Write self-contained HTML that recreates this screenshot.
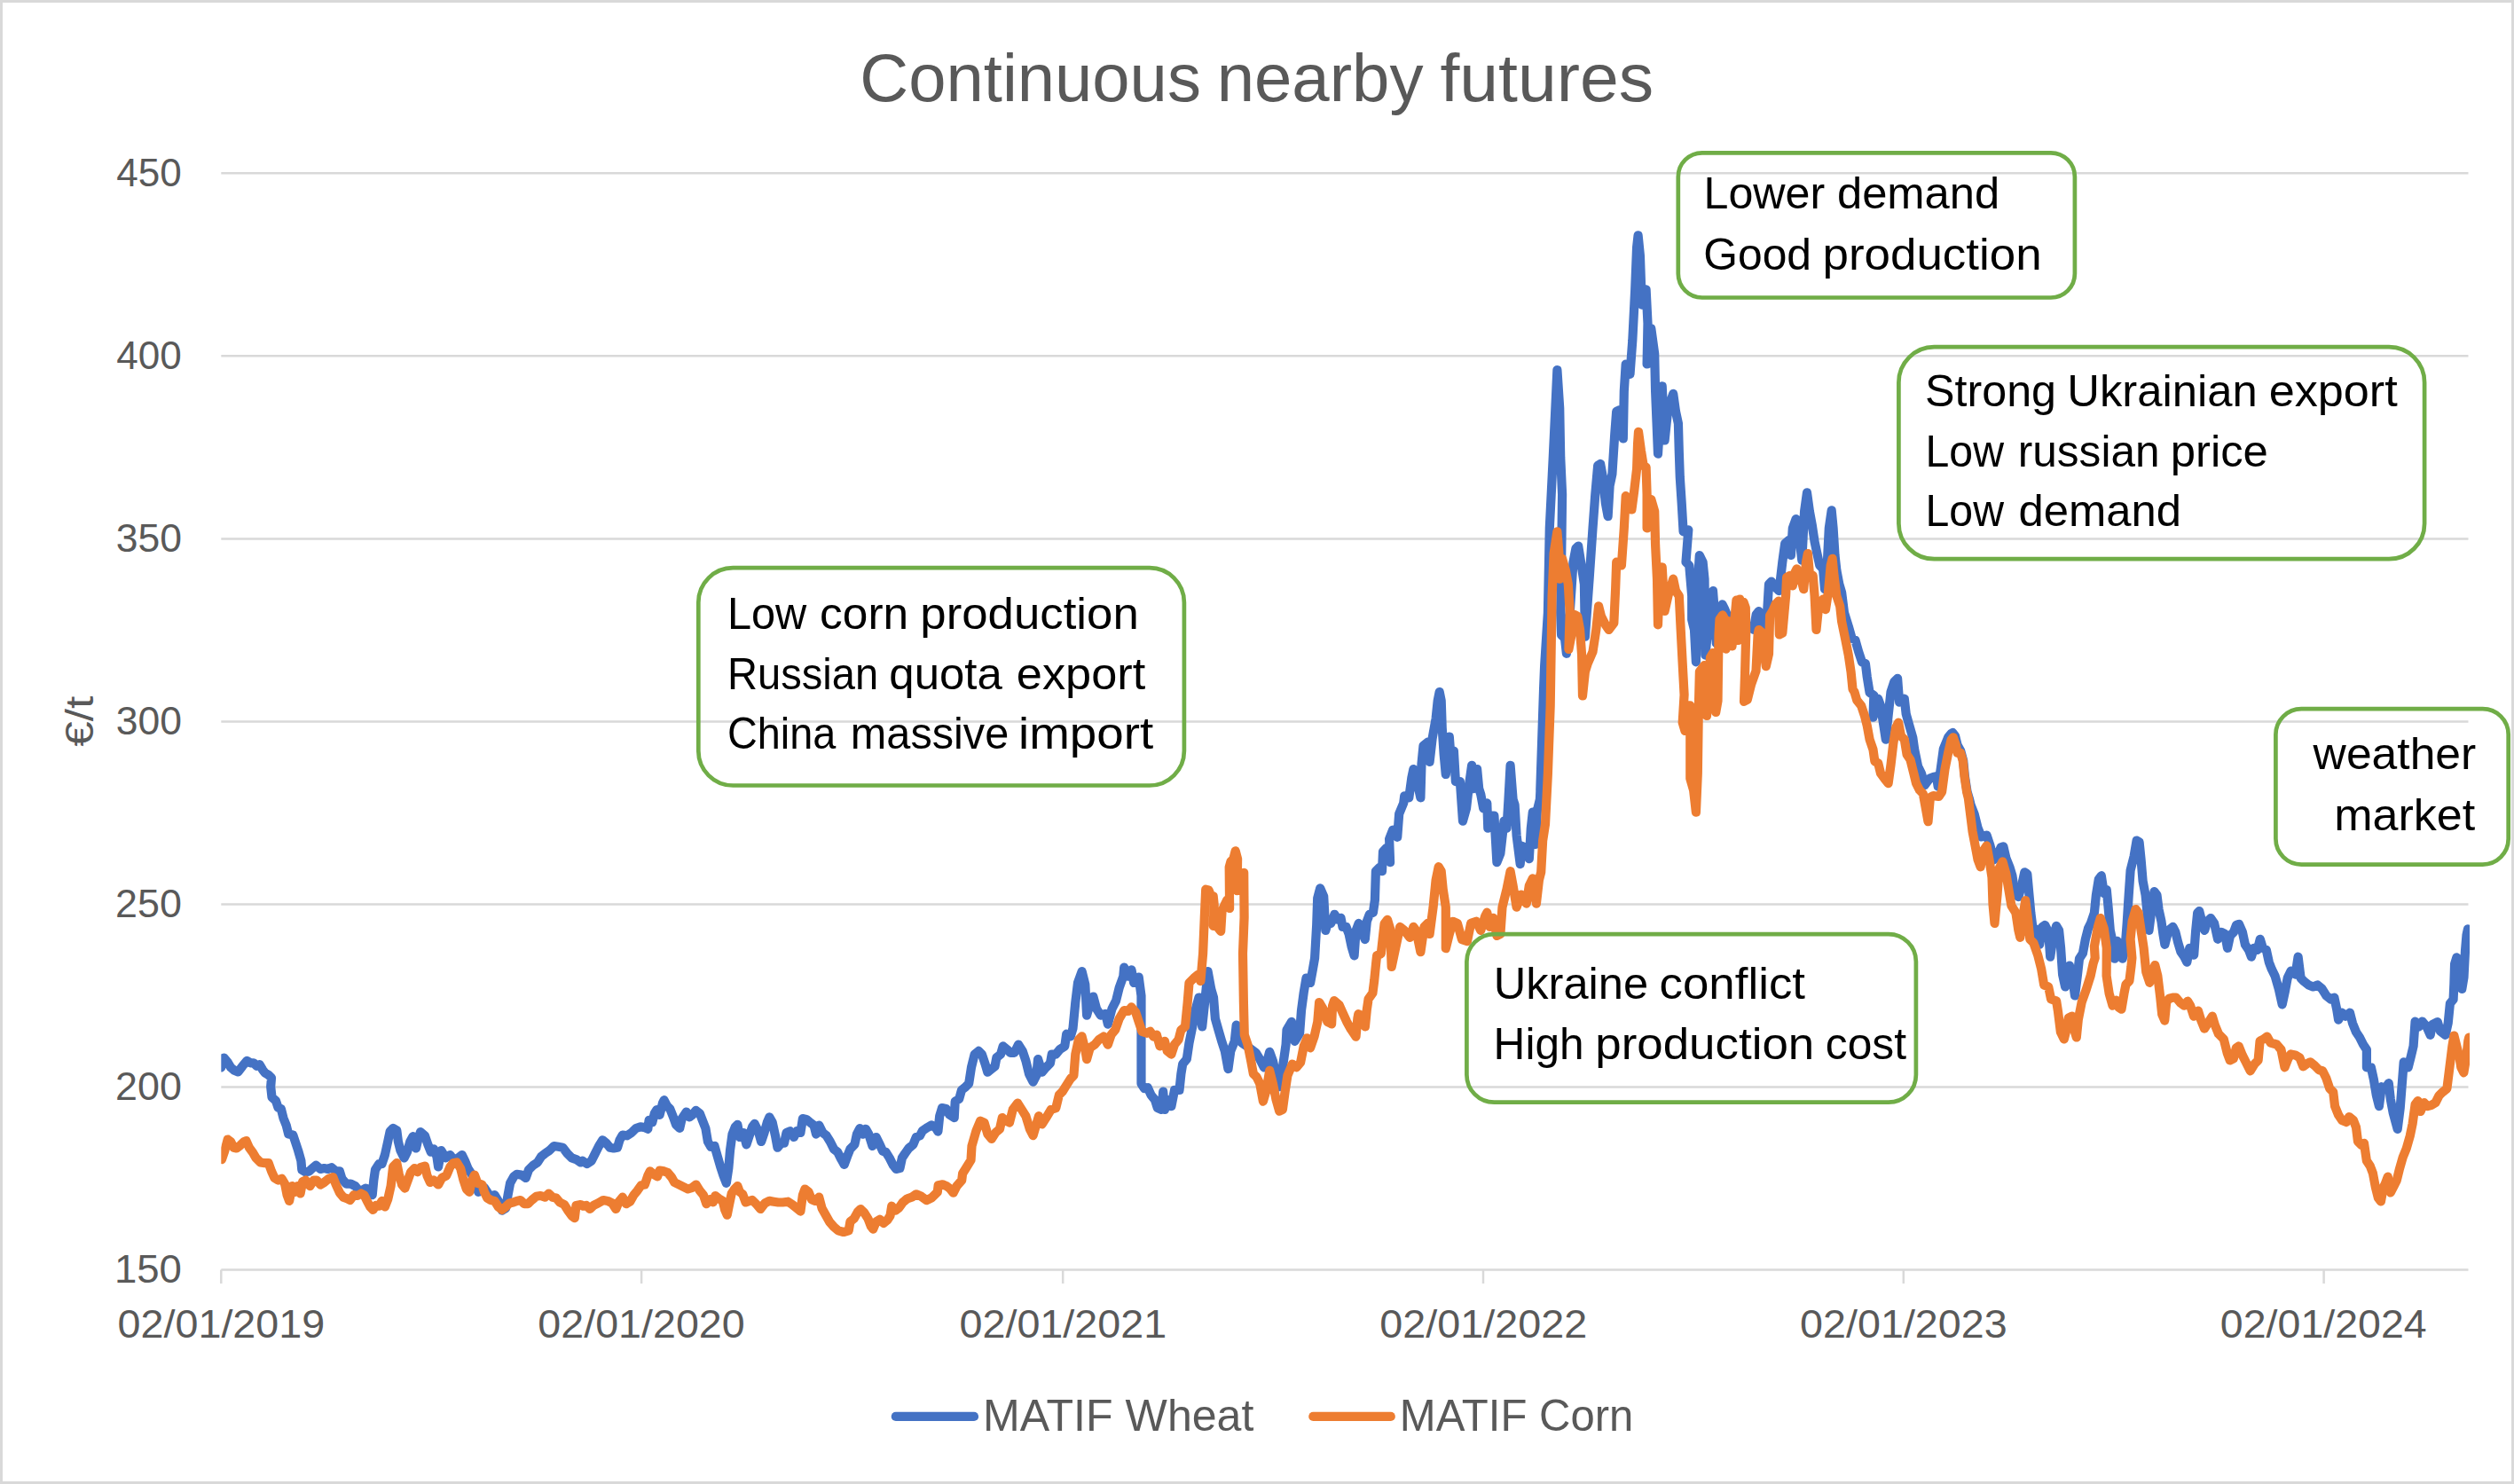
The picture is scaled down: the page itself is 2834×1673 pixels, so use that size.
<!DOCTYPE html>
<html lang="en"><head><meta charset="utf-8"><title>Continuous nearby futures</title>
<style>html,body{margin:0;padding:0;background:#fff}svg{display:block}text{font-family:"Liberation Sans",sans-serif}</style></head><body>
<svg width="2834" height="1673" viewBox="0 0 2834 1673">
<rect x="0" y="0" width="2834" height="1673" fill="#fff"/>
<rect x="1.5" y="1.5" width="2831" height="1670" fill="none" stroke="#d9d9d9" stroke-width="3"/>
<path d="M249.3 195.3H2782.5 M249.3 401.3H2782.5 M249.3 607.4H2782.5 M249.3 813.4H2782.5 M249.3 1019.4H2782.5 M249.3 1225.5H2782.5 M249.3 1431.5H2782.5 M249.3 1431.5V1447 M723.1 1431.5V1447 M1198.2 1431.5V1447 M1672.0 1431.5V1447 M2145.8 1431.5V1447 M2619.6 1431.5V1447" fill="none" stroke="#d9d9d9" stroke-width="2.5"/>
<text y="113.70" font-size="76.7" fill="#595959"><tspan x="969.30" textLength="384.61" lengthAdjust="spacingAndGlyphs">Continuous</tspan> <tspan x="1371.66" textLength="232.85" lengthAdjust="spacingAndGlyphs">nearby</tspan> <tspan x="1623.42" textLength="240.82" lengthAdjust="spacingAndGlyphs">futures</tspan></text>
<text transform="translate(131.31,209.70) scale(0.9845,1)" font-size="44.8" fill="#595959">450</text>
<text transform="translate(131.31,415.73) scale(0.9845,1)" font-size="44.8" fill="#595959">400</text>
<text transform="translate(130.63,621.76) scale(0.9938,1)" font-size="44.8" fill="#595959">350</text>
<text transform="translate(130.63,827.79) scale(0.9938,1)" font-size="44.8" fill="#595959">300</text>
<text transform="translate(130.06,1033.82) scale(1.0016,1)" font-size="44.8" fill="#595959">250</text>
<text transform="translate(130.06,1239.85) scale(1.0016,1)" font-size="44.8" fill="#595959">200</text>
<text transform="translate(128.88,1445.88) scale(1.0177,1)" font-size="44.8" fill="#595959">150</text>
<text transform="translate(132.53,1507.70) scale(1.0426,1)" font-size="44.8" fill="#595959">02/01/2019</text>
<text transform="translate(606.34,1507.70) scale(1.0410,1)" font-size="44.8" fill="#595959">02/01/2020</text>
<text transform="translate(1081.44,1507.70) scale(1.0431,1)" font-size="44.8" fill="#595959">02/01/2021</text>
<text transform="translate(1555.25,1507.70) scale(1.0436,1)" font-size="44.8" fill="#595959">02/01/2022</text>
<text transform="translate(2029.06,1507.70) scale(1.0420,1)" font-size="44.8" fill="#595959">02/01/2023</text>
<text transform="translate(2502.87,1507.70) scale(1.0389,1)" font-size="44.8" fill="#595959">02/01/2024</text>
<text transform="translate(105.2,841.78) rotate(-90) scale(1.1451,1)" font-size="44.8" fill="#595959">€/t</text>
<clipPath id="plot"><rect x="249.3" y="150" width="2534.7" height="1300"/></clipPath><g clip-path="url(#plot)">
<path d="M249.2 1203.4 L252.5 1192.6 L256.7 1197.6 L260.1 1203.4 L264.2 1206.8 L268.4 1208.4 L273.4 1201.8 L278.4 1195.9 L282.6 1198.4 L286.0 1198.4 L289.3 1201.8 L292.6 1200.1 L296.0 1205.9 L298.5 1209.3 L302.7 1211.8 L306.0 1215.1 L305.2 1225.2 L306.5 1236.9 L311.0 1241.0 L313.5 1248.6 L316.9 1250.2 L319.4 1260.3 L322.7 1268.6 L325.2 1278.6 L330.3 1279.5 L332.8 1287.0 L336.1 1297.0 L339.4 1308.7 L340.3 1318.8 L344.5 1321.3 L348.6 1320.4 L352.0 1317.1 L356.2 1313.7 L361.2 1317.9 L365.4 1317.1 L369.5 1317.9 L373.7 1316.2 L378.7 1320.4 L382.9 1320.4 L385.4 1328.8 L390.4 1334.6 L395.4 1334.6 L400.5 1337.1 L404.6 1342.2 L408.0 1342.2 L412.2 1339.6 L417.2 1342.2 L419.7 1347.2 L421.3 1330.5 L423.0 1318.8 L427.2 1312.1 L430.5 1312.1 L433.9 1302.0 L437.2 1287.0 L439.7 1275.3 L443.1 1272.0 L447.3 1274.5 L448.9 1287.0 L451.4 1297.0 L455.6 1305.4 L459.0 1298.7 L462.3 1287.0 L465.6 1281.1 L469.0 1294.5 L471.5 1283.7 L474.0 1276.1 L479.0 1280.3 L482.4 1290.3 L485.7 1298.7 L489.0 1295.4 L492.4 1303.7 L494.1 1315.4 L497.4 1297.0 L502.4 1305.4 L507.4 1302.0 L512.4 1308.7 L520.8 1302.0 L524.1 1308.7 L527.5 1317.1 L531.7 1323.8 L539.2 1343.8 L545.9 1338.8 L552.6 1348.8 L557.6 1347.2 L561.7 1353.9 L565.9 1364.7 L570.1 1362.2 L572.6 1347.2 L575.1 1333.8 L579.3 1326.3 L582.6 1323.8 L587.7 1324.6 L592.7 1327.9 L596.0 1318.8 L601.0 1313.7 L606.0 1310.4 L610.2 1303.7 L614.4 1300.4 L619.4 1297.0 L624.4 1292.0 L629.4 1292.8 L634.5 1293.7 L639.5 1300.4 L644.5 1305.4 L649.5 1307.1 L654.5 1310.4 L656.7 1308.7 L661.7 1312.1 L666.7 1308.7 L670.9 1300.4 L675.1 1292.0 L679.3 1285.3 L683.5 1288.7 L687.6 1293.7 L691.8 1294.5 L696.0 1293.7 L698.5 1285.3 L701.8 1279.5 L706.9 1280.3 L711.9 1277.0 L716.9 1272.0 L721.9 1270.3 L726.9 1271.1 L730.3 1272.8 L731.6 1262.8 L735.3 1265.3 L737.8 1255.2 L740.3 1251.1 L743.6 1256.9 L747.0 1243.5 L748.6 1240.2 L752.0 1246.9 L755.3 1250.2 L758.7 1258.6 L762.0 1267.8 L766.2 1272.0 L768.7 1261.1 L773.7 1253.6 L777.1 1259.4 L780.4 1256.9 L784.6 1251.9 L788.8 1255.2 L792.1 1263.6 L795.4 1272.0 L797.9 1287.0 L801.3 1292.8 L805.5 1292.0 L808.8 1303.7 L812.2 1315.4 L815.5 1325.4 L818.8 1333.8 L821.3 1317.1 L823.0 1297.0 L825.5 1278.6 L828.9 1270.3 L831.4 1267.8 L833.9 1282.0 L838.1 1277.0 L841.4 1290.3 L844.7 1280.3 L848.1 1270.3 L850.6 1266.9 L854.8 1275.3 L858.1 1287.0 L861.5 1277.0 L864.8 1265.3 L867.3 1259.4 L870.7 1265.3 L874.0 1280.3 L876.5 1293.7 L880.7 1288.7 L884.0 1288.7 L886.5 1277.0 L890.7 1275.3 L894.9 1282.0 L898.2 1275.3 L902.4 1277.0 L904.9 1261.1 L909.1 1261.9 L914.1 1266.1 L917.5 1268.6 L920.0 1278.6 L923.3 1268.6 L927.5 1277.0 L931.7 1280.3 L935.8 1287.0 L940.0 1295.4 L944.2 1298.7 L948.4 1307.1 L951.7 1312.9 L955.1 1303.7 L958.4 1295.4 L963.4 1290.3 L965.9 1278.6 L969.3 1272.0 L972.6 1278.6 L976.0 1272.8 L979.3 1278.6 L983.5 1292.0 L987.7 1282.0 L991.8 1290.3 L995.2 1297.9 L998.5 1298.7 L1002.7 1305.4 L1006.9 1313.7 L1010.2 1317.9 L1014.4 1317.1 L1016.9 1305.4 L1020.2 1300.4 L1024.4 1294.5 L1029.4 1290.3 L1032.8 1282.0 L1037.0 1280.3 L1040.0 1274.7 L1045.5 1271.1 L1050.1 1268.3 L1054.7 1271.1 L1057.4 1275.6 L1059.2 1258.2 L1062.0 1249.1 L1066.6 1250.0 L1070.2 1256.4 L1075.7 1260.1 L1076.7 1241.7 L1081.2 1239.0 L1084.0 1228.9 L1088.6 1225.2 L1092.2 1221.6 L1095.0 1203.3 L1098.6 1188.6 L1103.2 1184.9 L1106.9 1188.6 L1110.6 1199.6 L1113.3 1208.7 L1117.9 1205.1 L1121.5 1202.3 L1123.4 1192.3 L1128.0 1188.6 L1130.7 1179.4 L1135.3 1183.1 L1139.0 1186.8 L1143.5 1186.8 L1148.1 1177.6 L1152.7 1184.9 L1156.4 1195.9 L1160.0 1210.6 L1164.6 1219.7 L1168.3 1212.4 L1170.1 1194.1 L1174.7 1208.7 L1179.3 1203.3 L1183.9 1198.7 L1185.7 1188.6 L1190.3 1188.6 L1194.8 1183.1 L1200.3 1179.4 L1202.2 1165.7 L1206.8 1168.4 L1209.5 1159.3 L1212.3 1130.0 L1215.0 1108.0 L1219.6 1095.1 L1223.3 1109.8 L1225.1 1144.6 L1228.7 1131.8 L1232.4 1123.5 L1236.1 1137.3 L1240.7 1144.6 L1246.2 1142.8 L1248.9 1154.7 L1253.5 1137.3 L1258.1 1128.1 L1261.7 1113.5 L1266.3 1100.6 L1267.2 1090.6 L1271.8 1100.6 L1275.5 1093.3 L1278.2 1108.0 L1283.7 1101.5 L1286.5 1122.6 L1286.5 1148.3 L1286.5 1184.9 L1286.5 1221.6 L1290.1 1227.1 L1293.8 1226.2 L1297.5 1234.4 L1302.0 1239.9 L1304.8 1249.1 L1309.4 1250.9 L1311.2 1230.7 L1313.0 1250.9 L1315.8 1239.9 L1320.4 1247.2 L1324.0 1228.9 L1329.5 1228.9 L1331.4 1210.6 L1333.2 1199.6 L1337.8 1194.1 L1340.5 1175.8 L1344.2 1157.4 L1347.9 1137.3 L1351.5 1124.5 L1355.2 1157.4 L1358.9 1122.6 L1361.6 1095.1 L1365.3 1115.3 L1368.0 1124.5 L1369.9 1148.3 L1373.5 1161.1 L1377.2 1173.9 L1380.8 1184.9 L1384.5 1205.1 L1387.3 1184.9 L1391.8 1173.9 L1393.7 1155.6 L1396.4 1166.6 L1400.1 1175.8 L1408.3 1181.3 L1415.7 1186.8 L1420.2 1194.1 L1424.8 1203.3 L1428.5 1195.9 L1431.2 1185.8 L1434.9 1195.9 L1438.6 1212.4 L1442.2 1225.2 L1445.9 1203.3 L1449.6 1177.6 L1450.5 1161.1 L1456.0 1151.9 L1459.6 1173.9 L1465.1 1164.8 L1467.0 1139.1 L1469.7 1119.0 L1472.5 1102.5 L1477.1 1108.0 L1479.8 1093.3 L1482.1 1080.1 L1484.2 1042.9 L1485.2 1012.6 L1488.2 1001.4 L1492.2 1010.5 L1494.3 1049.0 L1497.3 1038.8 L1500.3 1040.9 L1504.4 1030.8 L1508.4 1036.8 L1511.5 1034.8 L1513.5 1044.9 L1517.5 1044.9 L1520.6 1053.0 L1523.6 1067.2 L1526.6 1077.3 L1528.6 1049.0 L1531.7 1040.9 L1534.7 1049.0 L1538.8 1059.1 L1540.8 1038.8 L1543.8 1030.8 L1547.9 1028.7 L1549.9 1014.6 L1550.9 982.2 L1554.9 978.2 L1558.0 982.2 L1559.0 960.0 L1563.0 955.9 L1567.1 972.1 L1566.1 945.8 L1570.1 935.7 L1575.2 943.8 L1577.2 917.5 L1582.2 905.4 L1583.2 897.3 L1588.3 899.3 L1591.3 877.1 L1593.4 867.0 L1597.4 881.1 L1601.4 899.3 L1602.5 860.9 L1604.5 840.7 L1609.5 836.6 L1611.6 858.9 L1614.6 832.6 L1618.6 810.3 L1620.7 790.1 L1622.7 780.0 L1624.7 790.1 L1625.7 820.4 L1627.7 850.8 L1629.8 873.0 L1631.8 852.8 L1633.8 830.6 L1635.8 856.8 L1638.9 846.7 L1640.9 881.1 L1645.9 881.1 L1649.0 925.6 L1653.0 911.4 L1656.0 885.2 L1659.1 862.9 L1661.1 889.2 L1665.1 867.0 L1667.2 889.2 L1669.2 895.3 L1672.2 911.4 L1676.3 905.4 L1677.3 933.7 L1681.3 919.5 L1684.4 919.5 L1687.4 972.1 L1691.4 962.0 L1695.5 925.6 L1698.5 933.7 L1700.5 901.3 L1702.6 862.9 L1705.6 901.3 L1707.6 907.4 L1709.6 941.8 L1713.7 974.1 L1715.7 953.9 L1719.7 955.9 L1723.8 968.1 L1725.8 933.7 L1727.8 915.5 L1730.9 951.9 L1732.9 913.5 L1735.9 901.3 L1737.9 860.9 L1736.3 890.8 L1738.2 833.6 L1740.1 776.3 L1741.1 751.5 L1744.9 690.9 L1746.8 595.5 L1750.6 519.1 L1752.5 479.2 L1755.4 417.1 L1758.2 460.1 L1759.2 515.5 L1761.1 557.3 L1760.1 633.7 L1759.2 690.9 L1760.1 715.8 L1764.0 719.6 L1765.9 736.8 L1769.7 690.9 L1773.5 633.7 L1776.4 618.4 L1779.2 615.5 L1782.1 633.7 L1785.9 658.5 L1786.9 717.7 L1791.6 652.7 L1795.5 595.5 L1798.3 557.3 L1801.2 524.8 L1804.1 522.9 L1806.9 538.2 L1809.8 566.8 L1812.6 582.1 L1814.6 547.7 L1817.4 534.4 L1820.3 488.7 L1822.2 463.9 L1826.0 462.0 L1829.8 494.5 L1830.8 441.0 L1832.7 410.5 L1837.5 421.9 L1840.3 383.7 L1843.2 326.4 L1845.1 278.7 L1846.6 265.3 L1848.9 288.3 L1850.8 343.6 L1855.6 326.4 L1857.5 364.6 L1856.6 410.5 L1861.3 370.4 L1865.2 399.0 L1866.1 441.0 L1869.0 511.6 L1873.7 435.3 L1876.6 496.4 L1880.4 460.1 L1886.2 443.9 L1889.0 463.9 L1891.9 477.3 L1892.8 509.5 L1893.8 538.2 L1895.7 566.8 L1897.6 599.3 L1903.3 597.4 L1900.5 633.7 L1904.3 637.5 L1907.2 671.8 L1907.2 698.6 L1910.0 710.0 L1911.9 746.3 L1912.9 671.8 L1915.8 626.0 L1919.6 633.7 L1921.5 652.7 L1922.4 738.7 L1928.2 681.4 L1931.0 666.1 L1932.9 690.9 L1934.8 725.3 L1938.7 687.1 L1941.5 681.4 L1944.4 687.1 L1948.2 696.7 L1957.8 710.0 L1973.0 706.2 L1976.8 710.0 L1979.7 692.8 L1982.6 689.0 L1985.4 702.4 L1988.3 710.0 L1992.1 690.9 L1994.0 658.5 L1996.9 655.6 L2001.7 662.3 L2005.5 666.1 L2009.3 633.7 L2012.2 612.6 L2016.9 608.8 L2018.9 626.0 L2020.8 595.5 L2024.6 585.0 L2028.4 606.9 L2031.3 631.7 L2034.1 576.4 L2037.0 555.4 L2039.9 576.4 L2042.7 591.6 L2045.6 610.7 L2048.4 624.1 L2051.3 637.5 L2055.1 641.3 L2057.0 664.2 L2059.9 633.7 L2061.8 595.5 L2064.7 575.4 L2066.6 595.5 L2068.5 626.0 L2070.4 643.2 L2073.3 658.5 L2076.1 668.0 L2079.0 690.9 L2083.8 706.2 L2087.6 719.6 L2091.4 721.5 L2095.2 734.8 L2099.0 746.3 L2102.9 748.2 L2104.8 763.5 L2107.6 780.7 L2112.4 783.9 L2111.5 808.7 L2117.2 787.7 L2120.0 795.4 L2122.9 814.5 L2125.8 833.6 L2128.6 806.8 L2131.5 780.1 L2135.3 768.6 L2139.1 764.8 L2141.1 791.6 L2146.8 787.7 L2148.7 804.9 L2152.5 818.3 L2156.3 831.6 L2158.2 845.0 L2162.1 864.1 L2165.9 871.7 L2169.7 885.1 L2175.4 877.5 L2179.4 876.0 L2182.9 875.2 L2184.7 886.6 L2186.5 875.2 L2187.8 866.4 L2190.8 844.5 L2196.1 831.3 L2199.6 827.0 L2201.3 826.1 L2204.0 829.6 L2206.6 840.1 L2210.1 846.2 L2213.2 857.6 L2214.9 875.2 L2217.6 892.7 L2219.8 900.1 L2221.7 907.7 L2225.6 917.6 L2229.6 933.5 L2233.6 943.5 L2239.6 941.5 L2243.5 953.4 L2247.5 969.3 L2251.5 965.4 L2255.5 955.4 L2258.4 954.4 L2261.4 967.3 L2265.4 977.3 L2268.4 987.2 L2271.4 1007.1 L2275.4 1011.1 L2279.3 997.2 L2282.3 983.3 L2285.3 985.2 L2287.3 1007.1 L2289.3 1029.0 L2291.3 1044.9 L2296.2 1048.9 L2299.2 1064.8 L2302.2 1044.9 L2305.2 1042.9 L2309.2 1050.9 L2311.2 1078.7 L2314.1 1058.8 L2318.1 1043.9 L2321.1 1048.9 L2323.1 1068.8 L2325.1 1098.6 L2328.1 1112.5 L2331.0 1090.7 L2333.0 1088.7 L2336.0 1100.6 L2339.0 1122.5 L2342.0 1098.6 L2344.0 1080.7 L2347.9 1074.7 L2350.9 1058.8 L2353.9 1046.9 L2356.9 1040.9 L2360.9 1029.0 L2362.9 1009.1 L2365.8 991.2 L2368.8 987.2 L2371.8 1007.1 L2374.8 1003.1 L2376.8 1025.0 L2378.8 1048.9 L2381.8 1062.8 L2383.7 1080.7 L2386.7 1060.8 L2390.7 1066.8 L2392.7 1080.7 L2395.7 1066.8 L2397.7 1040.9 L2399.7 1009.1 L2401.6 981.3 L2405.6 965.4 L2408.6 947.5 L2411.6 949.4 L2413.6 969.3 L2415.6 993.2 L2418.6 1009.1 L2420.5 1029.0 L2422.5 1048.9 L2425.5 1025.0 L2428.5 1005.1 L2431.5 1009.1 L2433.5 1025.0 L2436.5 1038.9 L2438.4 1052.9 L2440.4 1064.8 L2444.4 1048.9 L2449.4 1044.9 L2452.4 1050.9 L2455.3 1062.8 L2458.3 1072.8 L2462.3 1078.7 L2465.3 1084.7 L2468.3 1068.8 L2473.2 1076.7 L2475.2 1048.9 L2477.2 1029.0 L2479.2 1027.0 L2482.2 1038.9 L2485.2 1048.9 L2488.2 1038.9 L2492.1 1035.0 L2496.1 1040.9 L2500.1 1058.8 L2504.1 1050.9 L2508.1 1052.9 L2511.0 1068.8 L2514.0 1054.9 L2518.0 1050.9 L2521.0 1042.9 L2524.0 1041.9 L2527.9 1050.9 L2530.9 1064.8 L2534.9 1070.8 L2537.9 1078.7 L2540.9 1068.8 L2544.8 1070.8 L2547.8 1058.8 L2550.8 1068.8 L2554.8 1070.8 L2557.8 1084.7 L2560.8 1092.6 L2564.7 1100.6 L2568.7 1114.5 L2572.7 1132.4 L2575.7 1118.5 L2578.7 1102.6 L2582.6 1094.6 L2587.6 1098.6 L2590.6 1078.7 L2593.6 1102.6 L2597.5 1106.6 L2602.5 1110.5 L2607.5 1112.5 L2612.5 1110.5 L2617.4 1114.5 L2622.4 1122.5 L2627.4 1126.5 L2631.4 1124.5 L2634.3 1138.4 L2636.1 1149.6 L2640.1 1141.7 L2644.1 1145.6 L2649.0 1141.7 L2652.0 1153.6 L2656.0 1163.5 L2660.0 1169.5 L2664.0 1177.5 L2667.9 1183.4 L2667.9 1203.3 L2672.9 1203.3 L2675.9 1217.2 L2678.9 1235.1 L2681.9 1247.1 L2684.8 1225.2 L2688.8 1227.2 L2692.8 1221.2 L2694.8 1239.1 L2697.8 1255.0 L2702.7 1272.9 L2705.7 1249.1 L2707.7 1223.2 L2709.7 1197.3 L2714.7 1203.3 L2717.7 1191.4 L2720.6 1179.4 L2722.6 1151.6 L2726.6 1157.6 L2730.6 1151.6 L2735.6 1157.6 L2739.7 1166.8 L2741.9 1155.0 L2747.8 1152.0 L2750.8 1162.4 L2756.7 1166.8 L2759.7 1153.5 L2761.9 1131.2 L2765.6 1126.8 L2766.4 1109.0 L2767.1 1086.7 L2769.4 1079.3 L2772.3 1094.2 L2775.3 1114.9 L2777.5 1101.6 L2779.0 1071.9 L2780.5 1054.1 L2782.0 1047.4" fill="none" stroke="#4472c4" stroke-width="10.2" stroke-linejoin="round" stroke-linecap="round"/>
<path d="M250.0 1307.1 L253.4 1297.0 L256.7 1284.5 L260.1 1287.0 L263.4 1293.7 L266.7 1294.5 L270.9 1291.2 L275.1 1287.0 L277.6 1286.2 L280.9 1293.7 L285.1 1299.5 L288.5 1305.4 L293.5 1310.4 L298.5 1311.2 L302.7 1311.2 L306.0 1320.4 L309.4 1327.9 L313.5 1330.5 L317.7 1328.8 L321.1 1334.6 L323.6 1347.2 L326.1 1353.9 L329.4 1337.1 L332.8 1343.8 L335.3 1337.1 L338.6 1345.5 L341.1 1332.1 L344.5 1330.5 L349.5 1337.1 L353.7 1330.5 L357.0 1330.5 L361.2 1335.5 L365.4 1333.0 L370.4 1328.8 L375.4 1327.1 L378.7 1335.5 L382.9 1344.7 L387.1 1349.7 L391.3 1351.3 L394.6 1353.0 L398.8 1347.2 L403.0 1348.0 L407.1 1345.5 L410.5 1347.2 L413.8 1353.9 L417.2 1360.5 L420.5 1363.9 L423.9 1358.9 L427.2 1359.7 L430.5 1353.9 L433.9 1360.5 L437.2 1352.2 L440.6 1337.1 L443.1 1315.4 L447.3 1311.2 L449.8 1323.8 L453.1 1335.5 L456.4 1339.6 L459.8 1330.5 L463.1 1321.3 L467.3 1317.1 L470.7 1321.3 L474.0 1316.2 L479.0 1314.6 L481.5 1325.4 L484.9 1333.0 L489.0 1330.5 L494.1 1335.5 L498.2 1327.9 L503.2 1325.4 L507.4 1315.4 L510.8 1311.2 L514.9 1310.4 L519.1 1317.1 L522.5 1330.5 L525.8 1340.5 L529.2 1343.8 L531.7 1331.3 L535.0 1324.6 L538.3 1333.8 L543.4 1335.5 L545.9 1343.8 L549.2 1350.5 L553.4 1353.0 L557.6 1353.9 L561.7 1360.5 L565.9 1363.9 L570.1 1360.5 L574.3 1356.4 L578.5 1355.5 L582.6 1353.9 L586.8 1353.0 L591.0 1357.2 L595.2 1357.2 L599.4 1353.0 L604.4 1348.8 L609.4 1348.0 L614.4 1349.7 L618.6 1345.5 L622.8 1349.7 L626.9 1350.5 L631.1 1355.5 L636.1 1358.0 L640.3 1364.7 L644.5 1370.6 L647.8 1373.1 L649.5 1358.9 L654.5 1358.0 L657.5 1359.7 L660.9 1358.9 L665.1 1363.0 L669.2 1358.9 L674.3 1356.4 L680.1 1353.0 L685.1 1353.9 L690.1 1356.4 L694.3 1363.0 L697.7 1354.7 L701.8 1349.7 L706.0 1357.2 L710.2 1354.7 L714.4 1347.2 L718.6 1342.2 L722.7 1336.3 L726.9 1335.5 L730.3 1325.4 L732.8 1320.4 L736.9 1323.8 L741.1 1326.3 L743.6 1319.6 L748.6 1320.4 L752.8 1322.1 L757.0 1327.1 L760.3 1333.0 L765.4 1335.5 L770.4 1338.0 L775.4 1340.5 L780.4 1338.8 L784.6 1335.5 L788.8 1342.2 L792.9 1347.2 L796.3 1357.2 L800.5 1352.2 L803.8 1355.5 L806.3 1348.0 L810.5 1351.3 L814.7 1353.9 L817.2 1363.9 L819.7 1369.7 L822.2 1357.2 L824.7 1345.5 L828.0 1340.5 L831.4 1337.1 L833.9 1343.8 L837.2 1346.3 L840.6 1355.5 L844.7 1353.9 L848.1 1353.0 L853.1 1358.0 L857.3 1363.0 L862.3 1356.4 L867.3 1353.9 L872.3 1354.7 L877.3 1355.5 L882.4 1355.5 L888.2 1354.7 L893.2 1358.0 L898.2 1362.2 L902.4 1365.6 L904.9 1347.2 L907.4 1340.5 L911.6 1343.8 L914.9 1352.2 L919.1 1353.9 L923.3 1349.7 L926.6 1362.2 L930.8 1369.7 L935.0 1377.3 L940.0 1383.1 L945.0 1387.3 L950.9 1389.0 L956.7 1387.3 L958.4 1377.3 L962.6 1373.9 L966.8 1366.4 L970.1 1363.0 L974.3 1367.2 L978.5 1373.9 L981.8 1382.3 L984.3 1385.6 L987.7 1377.3 L991.8 1374.7 L996.0 1378.9 L1000.2 1375.6 L1003.5 1370.6 L1005.2 1359.7 L1009.4 1364.7 L1013.6 1361.4 L1017.7 1355.5 L1022.8 1351.3 L1027.8 1349.7 L1032.8 1346.3 L1038.6 1348.8 L1044.5 1353.2 L1050.2 1350.4 L1056.8 1343.8 L1057.7 1336.2 L1062.5 1335.3 L1067.2 1337.2 L1070.9 1340.0 L1074.7 1344.7 L1078.5 1337.2 L1084.2 1330.6 L1085.1 1323.0 L1089.8 1315.5 L1094.5 1307.9 L1095.5 1291.9 L1100.5 1274.7 L1105.1 1263.7 L1109.6 1265.6 L1113.3 1278.4 L1117.9 1283.9 L1122.5 1276.6 L1127.0 1272.9 L1129.8 1260.1 L1134.4 1263.7 L1138.0 1265.6 L1141.7 1250.9 L1147.2 1243.6 L1151.8 1250.9 L1156.4 1258.2 L1160.9 1272.9 L1164.6 1280.2 L1168.3 1267.4 L1171.0 1258.2 L1174.7 1267.4 L1179.3 1260.1 L1184.8 1250.9 L1190.3 1249.1 L1193.9 1234.4 L1197.6 1230.7 L1202.2 1223.4 L1206.8 1216.1 L1210.4 1212.4 L1212.3 1188.6 L1215.9 1172.1 L1219.6 1168.4 L1223.3 1183.1 L1225.1 1194.1 L1228.7 1181.3 L1234.2 1177.6 L1238.8 1172.1 L1244.3 1168.4 L1248.9 1177.6 L1252.6 1166.6 L1257.2 1161.1 L1261.7 1148.3 L1267.2 1139.1 L1271.8 1140.0 L1275.5 1135.4 L1280.1 1140.9 L1283.7 1151.9 L1287.4 1162.9 L1292.9 1164.8 L1296.6 1162.9 L1300.2 1168.4 L1303.9 1166.6 L1307.5 1179.4 L1313.0 1173.9 L1315.8 1184.9 L1320.4 1188.6 L1324.0 1177.6 L1328.6 1172.1 L1331.4 1161.1 L1336.0 1157.4 L1338.7 1130.0 L1340.5 1108.0 L1346.0 1102.5 L1350.6 1098.8 L1353.4 1106.1 L1356.1 1075.0 L1357.8 1034.3 L1359.2 1002.7 L1362.5 1003.4 L1364.9 1009.3 L1367.7 1010.3 L1368.7 1020.2 L1367.7 1043.8 L1371.5 1043.8 L1376.2 1049.9 L1377.6 1026.8 L1380.5 1020.2 L1383.3 1014.5 L1386.1 1024.0 L1385.7 977.7 L1387.5 971.1 L1390.4 968.3 L1392.7 959.3 L1395.1 968.3 L1394.6 1004.2 L1397.9 996.6 L1402.2 983.9 L1402.6 1034.3 L1401.0 1075.0 L1401.9 1130.0 L1402.8 1166.6 L1406.5 1177.6 L1410.2 1195.9 L1412.9 1210.6 L1416.6 1214.2 L1420.2 1221.6 L1423.9 1241.7 L1427.6 1228.9 L1431.2 1206.9 L1434.9 1221.6 L1438.6 1239.9 L1442.2 1252.7 L1445.9 1250.9 L1448.6 1230.7 L1451.4 1212.4 L1456.9 1199.6 L1461.5 1203.3 L1466.1 1197.8 L1469.7 1179.4 L1473.4 1170.3 L1477.1 1181.3 L1481.6 1168.4 L1485.3 1151.9 L1487.1 1130.0 L1492.6 1139.1 L1496.3 1151.9 L1500.0 1153.8 L1501.1 1154.5 L1502.1 1133.8 L1504.0 1128.1 L1509.6 1132.8 L1513.4 1141.3 L1518.1 1151.7 L1522.8 1160.2 L1528.5 1168.7 L1530.4 1147.9 L1531.3 1143.2 L1536.0 1146.0 L1538.9 1157.4 L1540.8 1138.5 L1542.6 1126.2 L1547.4 1119.6 L1549.2 1105.5 L1551.1 1086.6 L1552.1 1077.2 L1556.8 1075.3 L1558.7 1058.3 L1560.6 1041.3 L1564.0 1036.8 L1567.1 1046.9 L1568.7 1090.0 L1575.2 1059.1 L1578.2 1044.9 L1583.2 1049.0 L1589.3 1057.0 L1593.4 1044.9 L1596.4 1049.0 L1601.4 1073.2 L1605.5 1044.9 L1609.5 1040.9 L1611.6 1053.0 L1615.6 1022.7 L1618.6 992.3 L1621.7 977.2 L1624.7 982.2 L1626.7 1002.4 L1629.8 1022.7 L1629.8 1069.2 L1633.8 1053.0 L1637.8 1038.8 L1642.9 1040.9 L1648.0 1059.1 L1654.0 1061.1 L1658.1 1040.9 L1664.1 1038.8 L1669.2 1049.0 L1674.2 1032.8 L1676.3 1028.7 L1679.3 1044.9 L1683.3 1034.8 L1687.4 1055.0 L1691.4 1053.0 L1693.5 1022.7 L1698.5 1002.4 L1702.6 982.2 L1705.6 998.4 L1709.6 1022.7 L1714.7 1008.5 L1720.8 1018.6 L1723.8 998.4 L1727.8 990.3 L1731.9 1018.6 L1734.9 992.3 L1737.2 983.2 L1739.1 948.1 L1742.0 929.0 L1744.9 871.7 L1747.7 795.4 L1748.7 729.1 L1749.6 671.8 L1751.6 624.1 L1755.4 599.3 L1757.3 622.2 L1758.2 652.7 L1761.1 629.8 L1764.9 643.2 L1767.8 658.5 L1769.7 690.9 L1768.4 732.0 L1772.6 710.0 L1774.5 692.8 L1778.3 694.7 L1781.1 710.0 L1783.1 738.7 L1784.0 784.5 L1786.9 757.2 L1789.7 748.2 L1795.5 734.8 L1799.3 710.0 L1802.1 683.3 L1805.0 694.7 L1809.8 704.3 L1813.6 710.0 L1819.3 702.4 L1821.2 662.3 L1822.2 633.7 L1827.9 637.5 L1830.8 595.5 L1832.7 559.2 L1837.5 563.0 L1839.4 574.5 L1842.2 553.5 L1845.1 528.6 L1846.1 500.0 L1847.0 486.8 L1849.9 507.8 L1852.7 525.0 L1855.6 526.7 L1856.6 557.3 L1856.6 595.5 L1861.3 563.0 L1865.2 576.4 L1866.1 614.6 L1868.0 652.7 L1869.0 704.3 L1870.9 652.7 L1873.7 639.4 L1876.6 689.0 L1880.4 671.8 L1886.2 652.7 L1889.0 666.1 L1892.8 671.8 L1894.7 710.0 L1896.7 748.2 L1898.6 783.3 L1896.7 814.5 L1899.5 824.0 L1902.4 795.4 L1905.3 795.4 L1905.3 833.6 L1905.3 877.5 L1909.1 890.8 L1911.9 915.7 L1913.8 871.7 L1914.8 800.0 L1915.9 757.0 L1921.3 750.0 L1924.0 806.9 L1925.5 776.0 L1928.0 741.0 L1931.0 736.0 L1934.2 803.0 L1936.5 790.0 L1937.5 715.5 L1938.5 698.2 L1941.8 693.4 L1944.4 698.2 L1945.5 731.6 L1948.8 700.4 L1952.5 728.4 L1955.8 693.9 L1957.4 676.7 L1959.3 722.0 L1961.2 675.6 L1963.3 719.0 L1965.5 678.8 L1967.8 685.3 L1968.2 715.5 L1967.1 758.6 L1966.0 790.9 L1969.8 788.8 L1974.1 771.5 L1979.5 756.4 L1981.6 715.5 L1982.7 710.1 L1985.4 712.2 L1987.6 726.3 L1990.8 751.1 L1994.0 737.0 L1995.1 693.9 L1998.4 688.5 L2001.6 681.0 L2004.8 677.7 L2005.9 715.5 L2009.3 713.8 L2013.1 671.8 L2014.1 650.8 L2017.9 648.9 L2020.8 660.4 L2023.6 645.1 L2025.5 641.3 L2030.3 652.7 L2033.2 664.2 L2036.0 633.7 L2037.9 624.1 L2039.9 647.0 L2043.7 648.9 L2045.6 671.8 L2047.5 710.0 L2050.4 681.4 L2055.1 675.7 L2058.0 687.1 L2060.9 668.0 L2063.7 637.5 L2065.6 629.8 L2067.5 648.9 L2070.4 671.8 L2074.2 683.3 L2076.1 700.5 L2080.0 719.6 L2083.8 738.7 L2086.6 757.8 L2088.5 776.8 L2090.5 780.1 L2093.3 789.6 L2098.1 795.4 L2101.9 806.8 L2104.8 818.3 L2107.6 833.6 L2111.5 845.0 L2113.4 858.4 L2117.2 860.3 L2120.0 871.7 L2124.8 878.4 L2128.6 883.2 L2131.5 862.2 L2134.4 837.4 L2137.2 820.2 L2140.1 814.5 L2143.0 829.7 L2146.8 833.6 L2149.6 850.7 L2153.5 856.5 L2157.3 871.7 L2160.1 883.2 L2164.0 890.8 L2167.8 894.7 L2170.6 909.9 L2173.5 926.2 L2175.9 898.8 L2179.4 897.1 L2185.6 898.0 L2189.1 892.7 L2192.6 866.4 L2196.1 848.9 L2199.6 834.0 L2201.8 831.3 L2204.9 840.1 L2206.6 848.9 L2210.1 848.9 L2212.7 857.6 L2214.5 875.2 L2217.1 892.7 L2218.9 900.1 L2223.6 937.5 L2226.6 953.4 L2229.6 969.3 L2232.6 977.3 L2235.6 959.4 L2239.6 953.4 L2242.5 969.3 L2245.5 989.2 L2246.5 1019.1 L2248.5 1040.9 L2251.5 1009.1 L2253.5 979.3 L2257.5 971.3 L2261.4 985.2 L2264.4 1003.1 L2267.4 1021.0 L2272.4 1029.0 L2275.4 1048.9 L2277.3 1056.8 L2279.3 1038.9 L2283.3 1015.1 L2286.3 1038.9 L2288.3 1058.8 L2292.3 1062.8 L2297.2 1076.7 L2301.2 1092.6 L2304.2 1110.5 L2309.2 1112.5 L2312.1 1126.5 L2318.1 1128.4 L2319.9 1139.7 L2322.9 1163.5 L2326.8 1171.5 L2329.8 1159.6 L2331.8 1147.6 L2335.8 1145.6 L2337.8 1159.6 L2340.8 1169.5 L2342.8 1149.6 L2346.7 1129.7 L2351.7 1115.8 L2356.7 1099.9 L2359.7 1086.0 L2361.7 1080.0 L2360.9 1066.8 L2364.9 1044.9 L2367.8 1035.0 L2371.8 1046.9 L2374.8 1068.8 L2374.6 1099.9 L2377.6 1119.8 L2381.5 1133.7 L2385.5 1127.7 L2388.5 1135.7 L2391.5 1137.7 L2394.5 1119.8 L2396.5 1109.8 L2400.4 1105.9 L2402.4 1089.9 L2403.4 1080.0 L2401.6 1058.8 L2403.6 1038.9 L2407.6 1025.0 L2410.6 1029.0 L2413.6 1048.9 L2416.6 1068.8 L2419.3 1095.9 L2423.3 1107.8 L2426.3 1095.9 L2429.3 1088.0 L2432.3 1099.9 L2435.2 1123.8 L2437.2 1143.6 L2440.2 1150.6 L2442.2 1129.7 L2445.2 1125.7 L2449.2 1124.7 L2453.1 1124.7 L2458.1 1130.7 L2462.1 1133.7 L2466.1 1128.7 L2469.1 1133.7 L2473.0 1145.6 L2478.0 1139.7 L2481.0 1149.6 L2485.0 1159.6 L2488.9 1153.6 L2493.9 1145.6 L2496.9 1155.6 L2500.9 1165.5 L2506.8 1171.5 L2510.8 1187.4 L2513.8 1195.4 L2517.8 1193.4 L2520.8 1181.4 L2523.7 1179.4 L2527.7 1189.4 L2531.7 1197.3 L2536.7 1207.3 L2541.6 1199.3 L2545.6 1195.4 L2547.6 1173.5 L2551.6 1171.5 L2555.6 1168.5 L2559.5 1175.5 L2566.5 1177.5 L2571.5 1183.4 L2575.5 1203.3 L2579.4 1193.4 L2582.4 1188.4 L2587.4 1189.4 L2592.4 1192.4 L2596.3 1202.3 L2600.3 1199.3 L2604.3 1197.3 L2609.3 1201.3 L2614.2 1206.3 L2618.2 1207.3 L2622.2 1215.2 L2626.2 1227.2 L2630.2 1231.2 L2632.1 1247.1 L2636.1 1257.0 L2640.1 1263.0 L2645.1 1265.0 L2648.1 1259.0 L2653.0 1263.0 L2656.0 1270.9 L2658.0 1286.8 L2662.0 1290.8 L2665.0 1288.8 L2667.9 1308.7 L2671.9 1314.7 L2674.9 1322.6 L2677.9 1338.6 L2680.9 1350.5 L2683.9 1354.5 L2686.8 1338.6 L2688.8 1334.6 L2691.8 1326.6 L2694.8 1344.5 L2698.8 1336.6 L2701.8 1330.6 L2704.7 1318.7 L2708.7 1304.7 L2712.7 1294.8 L2716.7 1280.9 L2719.6 1267.0 L2722.6 1245.1 L2725.6 1241.1 L2728.6 1253.0 L2732.6 1243.1 L2736.6 1247.1 L2740.5 1246.1 L2745.5 1243.1 L2749.5 1235.1 L2753.5 1231.2 L2758.4 1227.2 L2760.4 1211.3 L2762.4 1195.4 L2764.4 1179.4 L2766.4 1167.5 L2769.4 1179.4 L2772.4 1191.4 L2774.3 1203.3 L2777.3 1209.3 L2780.3 1191.4 L2782.3 1173.5 L2783.3 1169.5" fill="none" stroke="#ed7d31" stroke-width="10.2" stroke-linejoin="round" stroke-linecap="round"/></g>
<path d="M1009.8 1596.9H1098" stroke="#4472c4" stroke-width="10.2" stroke-linecap="round" fill="none"/>
<path d="M1480.3 1596.9H1567.8" stroke="#ed7d31" stroke-width="10.2" stroke-linecap="round" fill="none"/>
<text y="1612.90" font-size="50.2" fill="#595959"><tspan x="1108.07" textLength="305.36" lengthAdjust="spacingAndGlyphs">MATIF Wheat</tspan></text>
<text y="1612.90" font-size="50.2" fill="#595959"><tspan x="1577.85" textLength="263.47" lengthAdjust="spacingAndGlyphs">MATIF Corn</tspan></text>
<rect x="787.3" y="640.2" width="547.6" height="245.3" rx="39" ry="39" fill="none" stroke="#70ad47" stroke-width="4.7"/>
<text y="708.80" font-size="50" fill="#000"><tspan x="819.88" textLength="89.37" lengthAdjust="spacingAndGlyphs">Low</tspan> <tspan x="924.11" textLength="100.05" lengthAdjust="spacingAndGlyphs">corn</tspan> <tspan x="1037.27" textLength="246.57" lengthAdjust="spacingAndGlyphs">production</tspan></text>
<text y="776.60" font-size="50" fill="#000"><tspan x="820.02" textLength="170.06" lengthAdjust="spacingAndGlyphs">Russian</tspan> <tspan x="1002.34" textLength="127.47" lengthAdjust="spacingAndGlyphs">quota</tspan> <tspan x="1145.88" textLength="145.38" lengthAdjust="spacingAndGlyphs">export</tspan></text>
<text y="843.60" font-size="50" fill="#000"><tspan x="819.96" textLength="122.36" lengthAdjust="spacingAndGlyphs">China</tspan> <tspan x="958.82" textLength="178.45" lengthAdjust="spacingAndGlyphs">massive</tspan> <tspan x="1148.00" textLength="152.16" lengthAdjust="spacingAndGlyphs">import</tspan></text>
<rect x="1891.8" y="172.3" width="447.1" height="163.2" rx="27" ry="27" fill="none" stroke="#70ad47" stroke-width="4.7"/>
<text y="235.40" font-size="50" fill="#000"><tspan x="1920.46" textLength="136.76" lengthAdjust="spacingAndGlyphs">Lower</tspan> <tspan x="2070.94" textLength="183.29" lengthAdjust="spacingAndGlyphs">demand</tspan></text>
<text y="303.50" font-size="50" fill="#000"><tspan x="1920.21" textLength="121.87" lengthAdjust="spacingAndGlyphs">Good</tspan> <tspan x="2054.56" textLength="247.08" lengthAdjust="spacingAndGlyphs">production</tspan></text>
<rect x="2140.4" y="391.2" width="592.7" height="239.0" rx="40" ry="40" fill="none" stroke="#70ad47" stroke-width="4.7"/>
<text y="457.60" font-size="50" fill="#000"><tspan x="2170.04" textLength="147.97" lengthAdjust="spacingAndGlyphs">Strong</tspan> <tspan x="2330.26" textLength="214.53" lengthAdjust="spacingAndGlyphs">Ukrainian</tspan> <tspan x="2557.68" textLength="145.08" lengthAdjust="spacingAndGlyphs">export</tspan></text>
<text y="525.50" font-size="50" fill="#000"><tspan x="2170.52" textLength="88.43" lengthAdjust="spacingAndGlyphs">Low</tspan> <tspan x="2274.75" textLength="159.83" lengthAdjust="spacingAndGlyphs">russian</tspan> <tspan x="2446.70" textLength="110.17" lengthAdjust="spacingAndGlyphs">price</tspan></text>
<text y="592.70" font-size="50" fill="#000"><tspan x="2170.52" textLength="88.43" lengthAdjust="spacingAndGlyphs">Low</tspan> <tspan x="2275.44" textLength="183.60" lengthAdjust="spacingAndGlyphs">demand</tspan></text>
<rect x="1653.4" y="1053.1" width="506.5" height="189.6" rx="31" ry="31" fill="none" stroke="#70ad47" stroke-width="4.7"/>
<text y="1125.90" font-size="50" fill="#000"><tspan x="1683.78" textLength="174.32" lengthAdjust="spacingAndGlyphs">Ukraine</tspan> <tspan x="1870.55" textLength="164.44" lengthAdjust="spacingAndGlyphs">conflict</tspan></text>
<text y="1193.80" font-size="50" fill="#000"><tspan x="1683.61" textLength="101.89" lengthAdjust="spacingAndGlyphs">High</tspan> <tspan x="1798.26" textLength="246.98" lengthAdjust="spacingAndGlyphs">production</tspan> <tspan x="2057.79" textLength="91.26" lengthAdjust="spacingAndGlyphs">cost</tspan></text>
<rect x="2565.4" y="799.1" width="262.3" height="175.5" rx="29" ry="29" fill="none" stroke="#70ad47" stroke-width="4.7"/>
<text y="867.30" font-size="50" fill="#000"><tspan x="2607.60" textLength="183.69" lengthAdjust="spacingAndGlyphs">weather</tspan></text>
<text y="935.50" font-size="50" fill="#000"><tspan x="2631.19" textLength="158.96" lengthAdjust="spacingAndGlyphs">market</tspan></text>
</svg></body></html>
